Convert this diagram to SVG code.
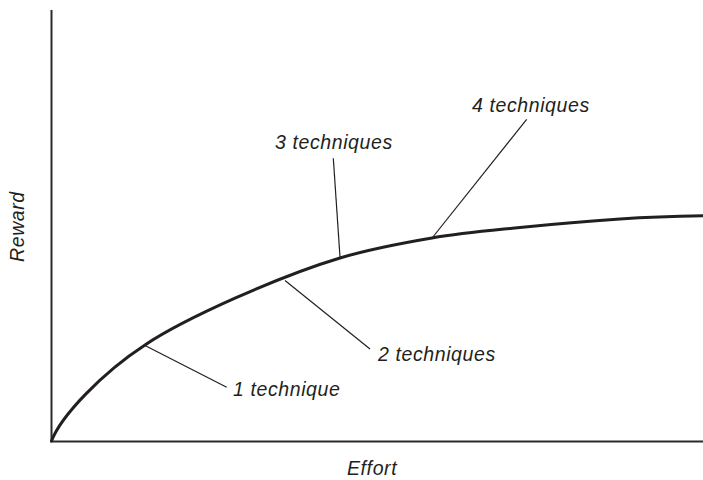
<svg xmlns="http://www.w3.org/2000/svg" width="703" height="480" viewBox="0 0 703 480">
  <style>
    .axis { fill: none; stroke: #2b2a2a; stroke-width: 2; }
    .curve { fill: none; stroke: #231f20; stroke-width: 3; stroke-linecap: round; }
    .leader { fill: none; stroke: #231f20; stroke-width: 1.2; }
    .label { font-family: "Liberation Sans", Arial, sans-serif; font-style: italic; font-size: 19.5px; letter-spacing: 0.6px; fill: #231f20; }
  </style>
  <rect width="703" height="480" fill="#ffffff"/>

  <!-- axes -->
  <g id="axes">
    <path class="axis" d="M51.5 10 V441.5 H703"/>
    <text class="label" x="347" y="475">Effort</text>
    <text class="label" transform="translate(24 262) rotate(-90)">Reward</text>
  </g>

  <!-- reward curve -->
  <g id="curve">
    <path class="curve" d="M51.5 441 C61 416 102 373 145 345 C185 318.3 280 276 340 258 C370 249 402 243.1 432 238 C462 232.9 488.7 230.7 520 227.5 C551.3 224.3 589.5 221 620 219 C650.5 217 680 216.2 703 215.8"/>
  </g>

  <!-- leader lines -->
  <g id="connectors">
    <line class="leader" x1="144" y1="345" x2="226.7" y2="387.3"/>
    <line class="leader" x1="285" y1="280.5" x2="370" y2="349"/>
    <line class="leader" x1="333.3" y1="158.3" x2="340" y2="257"/>
    <line class="leader" x1="526.7" y1="119.3" x2="431.7" y2="238.5"/>
  </g>

  <g id="label-1"><text class="label" x="233" y="396">1 technique</text></g>
  <g id="label-2"><text class="label" x="378" y="361">2 techniques</text></g>
  <g id="label-3"><text class="label" x="275" y="149">3 techniques</text></g>
  <g id="label-4"><text class="label" x="472" y="112">4 techniques</text></g>
</svg>
